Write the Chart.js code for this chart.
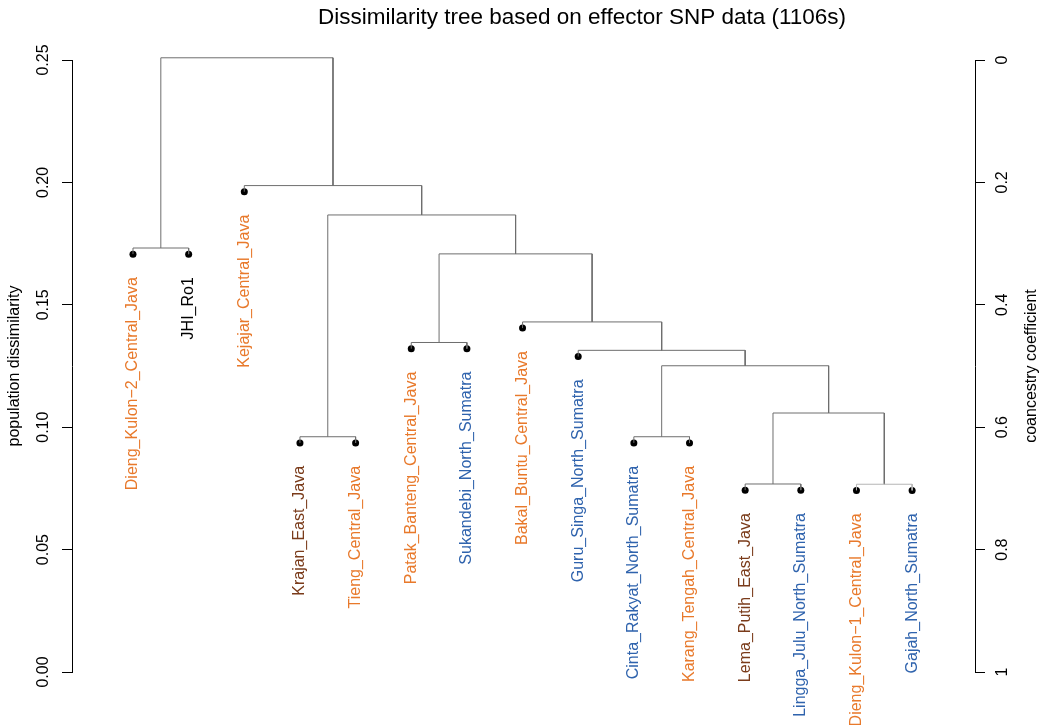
<!DOCTYPE html>
<html>
<head>
<meta charset="utf-8">
<script src="https://cdn.jsdelivr.net/npm/chart.js@4.4.0/dist/chart.umd.min.js"></script>
<style>
  html, body { margin: 0; padding: 0; background: #fff; }
  #contenedor { width: 1045px; height: 725px; }
</style>
</head>
<body>
<div id="contenedor"><canvas id="arbol"></canvas></div>
<script>
// hojas en el orden en que aparecen sobre el eje x
const hojas = [
  'Dieng_Kulon\u22122_Central_Java', 'JHI_Ro1', 'Kejajar_Central_Java',
  'Krajan_East_Java', 'Tieng_Central_Java', 'Patak_Banteng_Central_Java',
  'Sukandebi_North_Sumatra', 'Bakal_Buntu_Central_Java', 'Guru_Singa_North_Sumatra',
  'Cinta_Rakyat_North_Sumatra', 'Karang_Tengah_Central_Java', 'Lema_Putih_East_Java',
  'Lingga_Julu_North_Sumatra', 'Dieng_Kulon\u22121_Central_Java', 'Gajah_North_Sumatra'
];

// fusiones estilo hclust: negativo = hoja (1..15), positivo = fusión previa (1..14)
const fusiones = [
  [-12, -13], [-14, -15], [-10, -11], [-4, -5], [1, 2], [3, 5], [-9, 6],
  [-6, -7], [-8, 7], [8, 9], [-1, -2], [4, 10], [-3, 12], [11, 13]
];
const alturas = [
  0.0768, 0.0767, 0.0961, 0.0961, 0.1058, 0.1251, 0.1314,
  0.1346, 0.1430, 0.1708, 0.1732, 0.1867, 0.1987, 0.2509
];

const ticksDisimilitud = [0, 0.05, 0.10, 0.15, 0.20, 0.25];
const ticksCoancestria = [0, 0.2, 0.4, 0.6, 0.8, 1];

// color según la región del nombre
function colorRegion(nombre) {
  if (nombre.endsWith('Central_Java')) return '#e8792b';
  if (nombre.endsWith('North_Sumatra')) return '#2f63ad';
  if (nombre.endsWith('East_Java')) return '#7a3b1a';
  return '#000000';
}

// las hojas cuelgan un poco por debajo de la fusión que las une
const cuelgue = 0.01 * Math.max(...alturas);

const nodos = []; // posición de cada fusión
const hojaY = new Array(hojas.length).fill(0);
const tramos = [];

function posicion(ref, alturaPadre) {
  if (ref < 0) {
    const i = -ref - 1;
    hojaY[i] = alturaPadre - cuelgue;
    return { x: i + 1, y: hojaY[i] };
  }
  return nodos[ref - 1];
}

fusiones.forEach(function(par, k) {
  const h = alturas[k];
  const izq = posicion(par[0], h);
  const der = posicion(par[1], h);
  nodos.push({ x: (izq.x + der.x) / 2, y: h });
  tramos.push({
    type: 'scatter',
    showLine: true,
    data: [{ x: izq.x, y: izq.y }, { x: izq.x, y: h }, { x: der.x, y: h }, { x: der.x, y: der.y }],
    borderColor: k === 1 ? '#b5b5b5' : '#6e6e6e',
    borderWidth: 1,
    pointRadius: 0,
    clip: false,
    yAxisID: 'y'
  });
});

const puntosHojas = {
  type: 'scatter',
  data: hojas.map(function(n, i) { return { x: i + 1, y: hojaY[i] }; }),
  backgroundColor: '#000',
  borderWidth: 0,
  pointRadius: 3.5,
  clip: false,
  yAxisID: 'y'
};

// etiquetas de las hojas, título y eje derecho
const textos = {
  id: 'textos',
  afterDatasetsDraw(chart) {
    const ctx = chart.ctx;
    const sx = chart.scales.x, sy = chart.scales.y;
    const area = chart.chartArea;
    ctx.save();
    ctx.font = '16px "Liberation Sans", Arial, sans-serif';
    ctx.textAlign = 'right';
    ctx.textBaseline = 'middle';
    hojas.forEach(function(nombre, i) {
      const px = sx.getPixelForValue(i + 1);
      const py = sy.getPixelForValue(hojaY[i]) + 23;
      ctx.save();
      ctx.translate(px, py);
      ctx.rotate(-Math.PI / 2);
      ctx.fillStyle = colorRegion(nombre);
      ctx.fillText(nombre, 0, 0);
      ctx.restore();
    });

    ctx.fillStyle = '#000';
    ctx.textAlign = 'center';
    ctx.font = '22.5px "Liberation Sans", Arial, sans-serif';
    ctx.fillText('Dissimilarity tree based on effector SNP data (1106s)', 582, 18);

    ctx.font = '16px "Liberation Sans", Arial, sans-serif';
    ctx.translate(1032, (area.top + area.bottom) / 2);
    ctx.rotate(-Math.PI / 2);
    ctx.fillText('coancestry coefficient', 0, 0);
    ctx.restore();
  }
};

Chart.defaults.font.family = '"Liberation Sans", Arial, sans-serif';
Chart.defaults.color = '#000';

new Chart(document.getElementById('arbol'), {
  type: 'scatter',
  data: { datasets: tramos.concat([puntosHojas]) },
  options: {
    responsive: true,
    maintainAspectRatio: false,
    animation: false,
    layout: { padding: { top: 60, bottom: 53, left: 0, right: 0 } },
    plugins: { legend: { display: false }, tooltip: { enabled: false }, title: { display: false } },
    scales: {
      x: { type: 'linear', display: false, min: -0.096, max: 16.13 },
      y: {
        type: 'linear',
        position: 'left',
        min: 0,
        max: 0.25,
        afterFit(s) { s.width = 72; },
        afterBuildTicks(s) { s.ticks = ticksDisimilitud.map(function(v) { return { value: v }; }); },
        ticks: {
          minRotation: 90, maxRotation: 90, crossAlign: 'center', padding: 3,
          font: { size: 16 },
          callback: function(v) { return v.toFixed(2); }
        },
        grid: { drawOnChartArea: false, drawTicks: true, tickLength: 10, color: '#000' },
        border: { display: true, color: '#000' },
        title: { display: true, text: 'population dissimilarity', font: { size: 16 }, padding: { top: 5 } }
      },
      y2: {
        type: 'linear',
        position: 'right',
        reverse: true,
        min: 0,
        max: 1,
        afterFit(s) { s.width = 70; },
        afterBuildTicks(s) { s.ticks = ticksCoancestria.map(function(v) { return { value: v }; }); },
        ticks: {
          minRotation: 90, maxRotation: 90, crossAlign: 'center', padding: 6,
          font: { size: 16 },
          callback: function(v) { return String(v); }
        },
        grid: { drawOnChartArea: false, drawTicks: true, tickLength: 10, color: '#000' },
        border: { display: true, color: '#000' }
      }
    }
  },
  plugins: [textos]
});
</script>
</body>
</html>
